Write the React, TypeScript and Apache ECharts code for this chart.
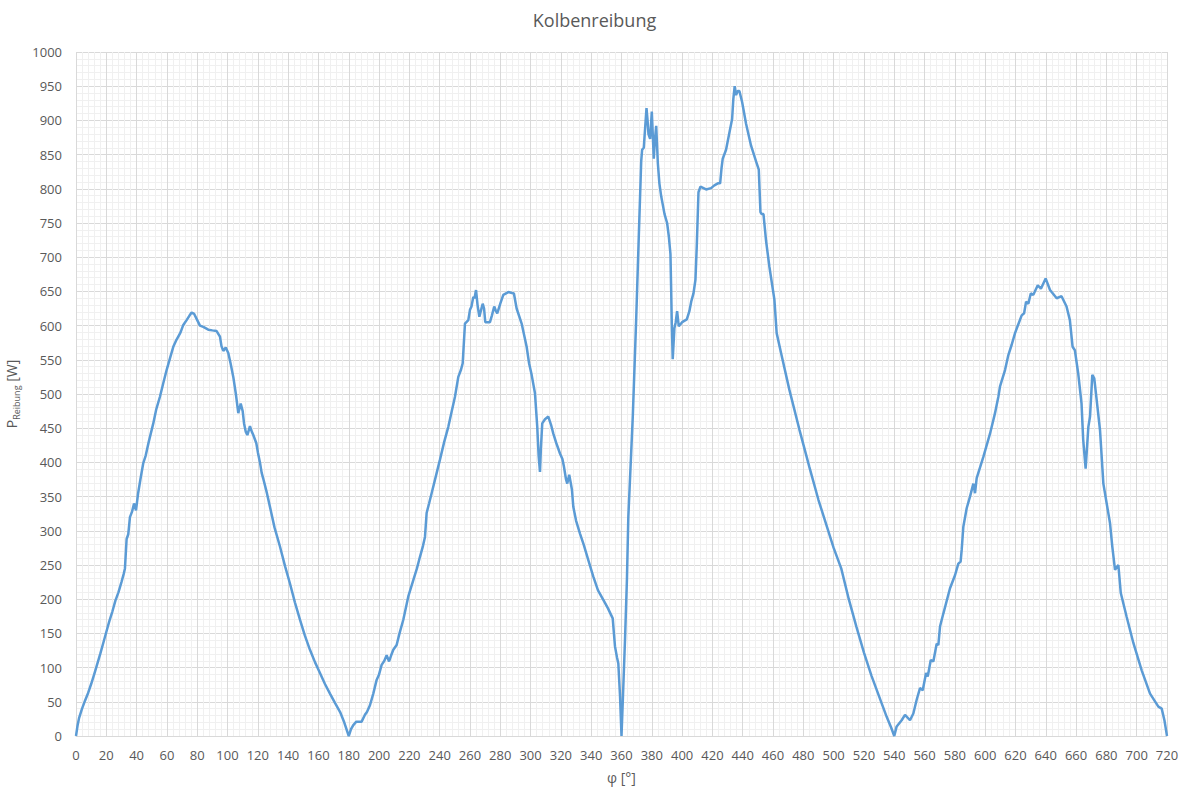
import React, { useEffect, useRef } from "react";
import * as echarts from "echarts";

const title = "Kolbenreibung";
const xTicks = { min: 0, max: 720, interval: 20 };
const yTicks = { min: 0, max: 1000, interval: 50 };

// crank angle φ [°]
const phi: number[] = [
  0, 1, 2, 4, 6, 8, 10, 12, 14, 16, 18, 20, 22, 24, 26, 28, 30, 31.5, 32.3, 33.4, 34.5, 35.6, 37, 38.3, 39.6, 41, 42.5, 44.4, 46, 48, 51, 53, 55.4, 57.5, 59.8, 62, 64.2, 66, 67.5, 69, 70.8, 73, 75, 76.3, 78, 80, 81.8, 84, 87.3, 90, 92.8, 95, 96, 97.2, 98.8, 100.5, 102, 103.8, 105.5, 107.1, 108.7, 110, 110.9, 112, 113.1, 114.8, 116, 117, 119, 120, 121.4, 122.5, 123.6, 126, 128, 131, 134.6, 138, 141.2, 144.5, 147.8, 151, 154.4, 157.7, 161, 164.3, 167.6, 171, 174.3, 177, 180,
  181.5, 183, 185, 186.3, 188.5, 190.7, 192, 194, 196.2, 198.4, 200, 201.7, 203.5, 205, 206.6, 208, 209.4, 211.6, 213.5, 216, 219.3, 222.6, 225, 227, 229, 230.3, 231.4, 233, 234.7, 237.5, 240.2, 243, 245.7, 248, 250.1, 252.3, 254, 255.2, 256.7, 258.9, 260, 261, 262.2, 263, 264, 265, 266.2, 267, 268.4, 269.3, 270.1, 273.2, 274.5, 276, 277, 278, 280, 282, 285.3, 289, 290.8, 294.1, 297.4, 299, 300.7, 302.9, 304.4, 305.3, 306.2, 306.8, 307.7, 309.5, 311.7, 313.5, 315, 317, 319.4, 321, 322, 323.4, 324.2, 325.5, 326.5, 327.3, 328.2, 330, 332.6, 335, 338, 341.4, 344.5, 348, 351, 354.2, 355, 355.7, 357, 357.9, 359, 360,
  361, 362.3, 363.6, 364.5, 367.5, 369.7, 371.4, 373, 373.6, 374.7, 376.5, 377.2, 377.8, 378.9, 380, 381.3, 382, 382.9, 384, 385, 386.2, 388.4, 390.1, 391.2, 392.3, 392.8, 393.2, 393.8, 394.9, 395.8, 396.7, 397.8, 400, 403.1, 404.8, 406, 407.5, 408.8, 409.7, 410.8, 412.1, 415.8, 419.1, 421.3, 423.6, 425.1, 426, 426.8, 429, 431.2, 433, 433.8, 434.7, 435.6, 436.7, 437.8, 439.6, 442.2, 445.5, 448.8, 450.6, 451.7, 452.5, 453.7, 455.4, 457.6, 460.9, 462.4, 465.3, 470.8, 477.4, 484, 490, 500, 505, 510, 515, 520, 525, 530, 535, 538, 540,
  541.6, 544.9, 547.1, 550.4, 552.6, 554.8, 557, 558.8, 561, 562.1, 564.1, 565.8, 568, 569.1, 570.2, 572.4, 576.8, 580.1, 582.3, 583.8, 584.5, 585.6, 587.8, 590, 592.2, 593.3, 594.4, 598.8, 603.2, 606.5, 608.7, 609.8, 613.1, 615.3, 617.5, 619.7, 621.2, 624.1, 625.7, 627, 628.5, 630.1, 631.8, 634.7, 636.8, 639.9, 642.8, 647.2, 650.4, 653.7, 655.9, 657.7, 659.2, 661.4, 663.6, 664.7, 666.3, 668.1, 669.2, 670.7, 672, 673.6, 675.8, 678, 680.2, 682.4, 683.9, 685.7, 687.9, 689.5, 693.4, 697.8, 703.3, 708.8, 714.3, 716.5, 718.3, 720,
];

// friction power P_Reibung [W]
const power: number[] = [
  0, 15, 26, 40, 52, 63, 76, 90, 105, 120, 136, 152, 168, 182, 198, 210, 225, 237, 245, 288, 295, 320, 328, 340, 330, 355, 375, 399, 410, 430, 457, 478, 496, 515, 535, 552, 569, 578, 584, 590, 601, 608, 615, 619, 617, 608, 600, 598, 594, 593, 592, 584, 570, 563, 568, 560, 545, 525, 500, 472, 486, 475, 457, 445, 440, 453, 445, 440, 428, 415, 400, 385, 376, 355, 335, 305, 277, 248, 223, 195, 170, 147, 126, 108, 92, 76, 62, 48, 35, 20, 0,
  10, 16, 21, 21, 21, 31, 35, 45, 62, 82, 90, 104, 110, 118, 109, 118, 126, 133, 150, 170, 204, 228, 245, 262, 278, 291, 326, 340, 355, 380, 404, 430, 452, 475, 496, 525, 535, 545, 603, 608, 623, 628, 642, 640, 652, 630, 613, 620, 632, 625, 605, 605, 615, 628, 622, 618, 632, 645, 649, 647, 625, 603, 569, 545, 528, 501, 452, 410, 386, 420, 457, 463, 467, 455, 442, 428, 413, 405, 394, 375, 369, 382, 370, 360, 335, 315, 296, 280, 258, 233, 213, 199, 187, 172, 150, 131, 115, 106, 60, 0,
  60, 140, 230, 320, 470, 610, 730, 840, 857, 860, 918, 900, 880, 873, 913, 844, 870, 892, 837, 808, 789, 763, 750, 731, 705, 650, 602, 551, 596, 605, 621, 599, 605, 609, 621, 635, 647, 667, 718, 795, 803, 799, 801, 805, 808, 808, 830, 844, 857, 882, 902, 931, 950, 937, 943, 943, 927, 895, 863, 840, 828, 766, 763, 763, 724, 686, 638, 589, 560, 506, 448, 393, 345, 275, 245, 200, 160, 122, 88, 58, 28, 12, 0,
  14, 23, 31, 23, 33, 53, 70, 67, 92, 87, 111, 109, 135, 133, 160, 179, 216, 235, 252, 255, 272, 306, 333, 350, 369, 355, 377, 408, 442, 472, 496, 511, 535, 557, 572, 589, 598, 615, 618, 635, 632, 647, 645, 659, 654, 669, 652, 640, 643, 628, 608, 569, 564, 530, 486, 433, 391, 452, 467, 528, 523, 491, 447, 369, 340, 311, 277, 243, 250, 209, 174, 136, 96, 62, 43, 40, 23, 0,
];

const FONT = "'Open Sans', 'Noto Sans', sans-serif";
const TEXT = "#595959";

export default function App() {
  const ref = useRef<HTMLDivElement>(null);
  useEffect(() => {
    if (!ref.current) return;
    const chart = echarts.init(ref.current, undefined, { renderer: "svg" });
    const data = phi.map((x, i) => [x, power[i]]);
    chart.setOption({
      animation: false,
      backgroundColor: "#ffffff",
      textStyle: { fontFamily: FONT },
      title: {
        text: title,
        left: "center",
        top: 6,
        textStyle: { fontFamily: FONT, fontSize: 18, fontWeight: "normal", color: TEXT },
      },
      grid: {
        left: 76,
        right: 22,
        top: 52,
        bottom: 55,
        containLabel: false,
        outerBoundsMode: "none",
      },
      xAxis: {
        type: "value",
        min: xTicks.min,
        max: xTicks.max,
        interval: xTicks.interval,
        name: "φ [°]",
        nameLocation: "middle",
        nameGap: 34,
        nameTextStyle: { fontFamily: FONT, fontSize: 14, color: TEXT },
        axisLine: { show: true, lineStyle: { color: "#d9d9d9", width: 1 } },
        axisTick: { show: false },
        axisLabel: {
          fontFamily: FONT,
          fontSize: 13,
          color: TEXT,
          margin: 12,
          formatter: (v: number) => String(v),
        },
        splitLine: { show: true, lineStyle: { color: "#d9d9d9", width: 1 } },
        minorTick: { show: false, splitNumber: 5 },
        minorSplitLine: { show: true, lineStyle: { color: "#f0f0f0", width: 1 } },
      },
      yAxis: {
        type: "value",
        min: yTicks.min,
        max: yTicks.max,
        interval: yTicks.interval,
        name: "{p|P}{sub|Reibung}{p| [W]}",
        nameLocation: "middle",
        nameGap: 50,
        nameRotate: 90,
        nameTextStyle: {
          color: TEXT,
          fontFamily: FONT,
          rich: {
            p: { fontSize: 14, color: TEXT, fontFamily: FONT, lineHeight: 20, verticalAlign: "middle" },
            sub: { fontSize: 9, color: TEXT, fontFamily: FONT, lineHeight: 20, verticalAlign: "bottom" },
          },
        },
        axisLine: { show: false },
        axisTick: { show: false },
        axisLabel: {
          fontFamily: FONT,
          fontSize: 13,
          color: TEXT,
          margin: 14,
          formatter: (v: number) => String(v),
        },
        splitLine: { show: true, lineStyle: { color: "#d9d9d9", width: 1 } },
        minorTick: { show: false, splitNumber: 5 },
        minorSplitLine: { show: true, lineStyle: { color: "#f0f0f0", width: 1 } },
      },
      series: [
        {
          type: "line",
          data,
          showSymbol: false,
          smooth: false,
          lineStyle: { color: "#5b9bd5", width: 2.5 },
          itemStyle: { color: "#5b9bd5" },
        },
      ],
    });
    return () => chart.dispose();
  }, []);
  return (
    <div
      ref={ref}
      style={{ position: "absolute", left: 0, top: 0, width: 1189, height: 791 }}
    />
  );
}
